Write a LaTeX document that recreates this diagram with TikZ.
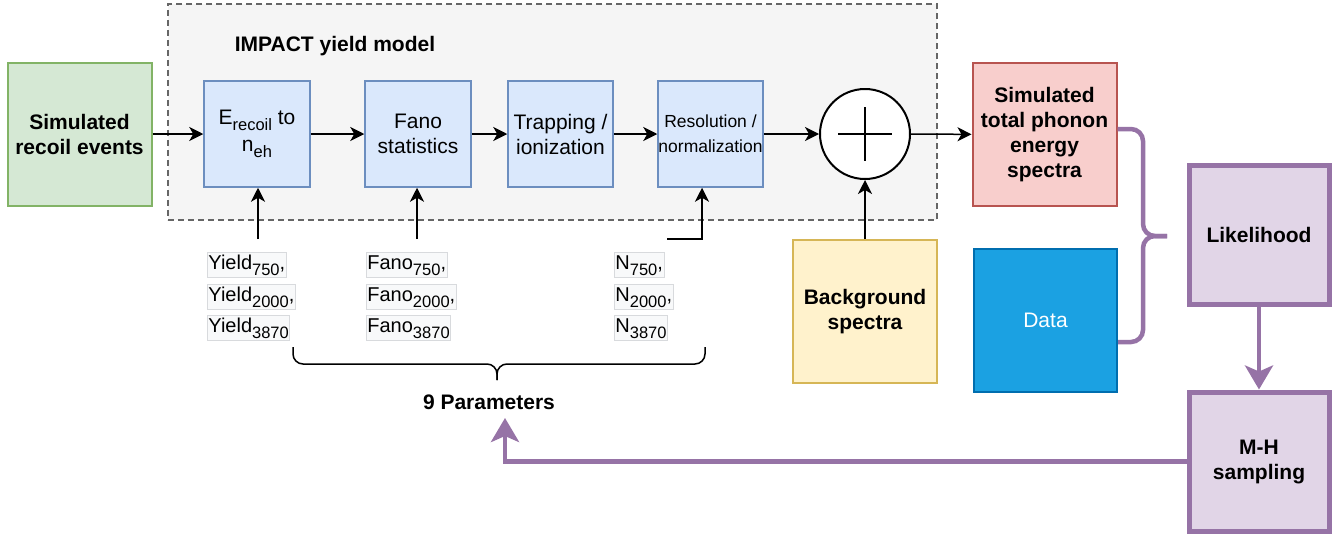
\documentclass[tikz,border=0pt]{standalone}
\usepackage{fontspec}
\setmainfont{Liberation Sans}
\usetikzlibrary{arrows.meta,calc}

\definecolor{grpfill}{HTML}{F5F5F5}
\definecolor{grpdraw}{HTML}{666666}
\definecolor{grnfill}{HTML}{D5E8D4}
\definecolor{grndraw}{HTML}{82B366}
\definecolor{blufill}{HTML}{DAE8FC}
\definecolor{bludraw}{HTML}{6C8EBF}
\definecolor{redfill}{HTML}{F8CECC}
\definecolor{reddraw}{HTML}{B85450}
\definecolor{ylwfill}{HTML}{FFF2CC}
\definecolor{ylwdraw}{HTML}{D6B656}
\definecolor{datfill}{HTML}{1BA1E2}
\definecolor{datdraw}{HTML}{006EAF}
\definecolor{prpfill}{HTML}{E1D5E7}
\definecolor{prpdraw}{HTML}{9673A6}
\definecolor{lblfill}{HTML}{F8F9FA}
\definecolor{lbldraw}{HTML}{D8DADD}

% subscript at a fixed size below the baseline
\newcommand{\lowsub}[1]{\raisebox{-0.3em}{\fontsize{16.5}{18}\selectfont #1}}

\tikzset{
  x=1pt, y=-1pt,
  big/.style={font=\fontsize{21}{25}\selectfont},
  bigbold/.style={font=\fontsize{21}{25}\selectfont\bfseries},
  group/.style={draw=grpdraw, fill=grpfill, dashed, dash pattern=on 6pt off 4pt, line width=1.3pt},
  stage/.style={draw=bludraw, fill=blufill, line width=1.5pt, inner sep=0pt, align=center,
    minimum width=106pt, minimum height=106pt, big},
  bigbox/.style={line width=2pt, inner sep=0pt, align=center,
    minimum width=144pt, minimum height=143pt, bigbold},
  lkbox/.style={draw=prpdraw, fill=prpfill, line width=5pt, inner sep=0pt, align=center,
    minimum width=140pt, minimum height=139pt, bigbold},
  param/.style={draw=lbldraw, fill=lblfill, line width=0.8pt, inner sep=1pt, anchor=west,
    text height=16pt, text depth=7pt, font=\fontsize{20}{24}\selectfont},
  arr/.style={draw=black, line width=1.5pt, -{Stealth[length=14pt,width=14pt,inset=4pt]}},
  parr/.style={draw=prpdraw, line width=4.5pt, -{Stealth[length=24pt,width=28pt,inset=6pt]}},
  brace/.style={draw=black, line width=1.5pt, rounded corners=10pt},
  pbrace/.style={draw=prpdraw, line width=4.5pt, rounded corners=12pt},
}

\begin{document}
\begin{tikzpicture}
\useasboundingbox (0,0) rectangle (1336,536);

% yield model container
\node[group, minimum width=769pt, minimum height=216pt] (grp) at (552.5,112) {};
\node[bigbold] (title) at (335,46) {IMPACT yield model};

% input and processing chain
\node[bigbox, draw=grndraw, fill=grnfill] (sim) at (79.5,134) {Simulated\\recoil events};
\node[stage] (e2n) at (257,134) {E\lowsub{recoil} to\\[2pt]n\lowsub{eh}};
\node[stage] (fano) at (418,134) {Fano\\statistics};
\node[stage, minimum width=105pt] (trap) at (560.5,134) {Trapping /\\ionization};
\node[stage, minimum width=105pt, font=\fontsize{17.5}{25}\selectfont] (reso) at (710.5,134) {Resolution /\\normalization};
\node[draw=black, fill=white, circle, line width=2pt, minimum size=90pt, inner sep=0pt] (sum) at (865,134) {};
\draw[line width=1.5pt] ($(sum.center)+(-27,0)$) -- ($(sum.center)+(27,0)$);
\draw[line width=1.5pt] ($(sum.center)+(0,-27)$) -- ($(sum.center)+(0,27)$);

% spectra and statistics
\node[bigbox, draw=reddraw, fill=redfill] (simspec) at (1044.5,134.5) {Simulated\\total phonon\\energy\\spectra};
\node[bigbox, draw=datdraw, fill=datfill, text=white, font=\fontsize{21}{25}\selectfont, minimum width=143pt] (data) at (1045.5,320.5) {Data};
\node[bigbox, draw=ylwdraw, fill=ylwfill] (bg) at (865,311.5) {Background\\spectra};
\node[lkbox] (like) at (1259,235) {Likelihood};
\node[lkbox] (mh) at (1259,461.5) {M-H\\sampling};

% parameter labels
\node[param] (y1) at (207,265) {Yield\lowsub{750},};
\node[param] (y2) at (207,296.5) {Yield\lowsub{2000},};
\node[param] (y3) at (207,328) {Yield\lowsub{3870}};
\node[param] (f1) at (366,265) {Fano\lowsub{750},};
\node[param] (f2) at (366,296.5) {Fano\lowsub{2000},};
\node[param] (f3) at (366,328) {Fano\lowsub{3870}};
\node[param] (n1) at (614,265) {N\lowsub{750},};
\node[param] (n2) at (614,296.5) {N\lowsub{2000},};
\node[param] (n3) at (614,328) {N\lowsub{3870}};
\node[bigbold] (params) at (489,402) {9 Parameters};

% signal flow
\draw[arr] (sim) -- (e2n);
\draw[arr] (e2n) -- (fano);
\draw[arr] (fano) -- (trap);
\draw[arr] (trap) -- (reso);
\draw[arr] (reso) -- (sum);
\draw[arr] (sum) -- (simspec);
\draw[arr] (bg) -- (sum);

% parameter inputs
\coordinate (yin) at (258,239);
\coordinate (fin) at (417,239);
\coordinate (nin) at (667,239);
\coordinate (rin) at ($(reso.south)+(-8.5,0)$);
\draw[arr] (yin) -- (yin |- e2n.south);
\draw[arr] (fin) -- (fin |- fano.south);
\draw[arr] (nin) -| (rin);

% brace gathering the nine parameters
\coordinate (bl) at (293,347);
\coordinate (br) at (705,347);
\coordinate (bt) at (497,380);
\draw[brace] (bl) -- (bl |- 0,364) -- (bt |- 0,364) -- (bt);
\draw[brace] (br) -- (br |- 0,364) -- (bt |- 0,364) -- (bt);

% brace joining simulation and data into the likelihood
\coordinate (pa) at ($(simspec.east)+(0,-5.5)$);
\coordinate (pb) at ($(data.east)+(0,21.5)$);
\coordinate (pt) at (1167,236);
\draw[pbrace] (pa) -- (1143,0 |- pa) -- (1143,236) -- (pt);
\draw[pbrace] (pb) -- (1143,0 |- pb) -- (1143,236) -- (pt);

% sampling loop
\coordinate (ptip) at (505,418);
\draw[parr] (like) -- (mh);
\draw[parr] (mh.west) -| (ptip);
\end{tikzpicture}
\end{document}
